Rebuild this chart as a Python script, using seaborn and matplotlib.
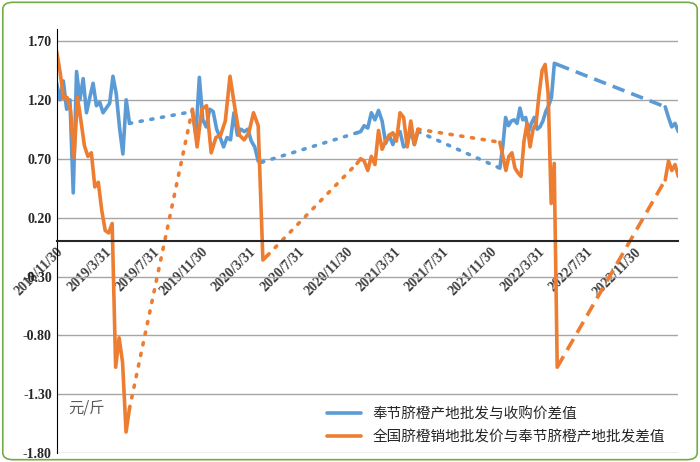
import pandas as pd
import numpy as np
import matplotlib.pyplot as plt
import seaborn as sns
from matplotlib.patches import FancyBboxPatch

# --- data: solid segments (start date, end date, values) ---
blue_segments = [
    ('2018-11-30', '2019-06-02', [1.34, 1.20, 1.36, 1.12, 1.20, 0.41, 1.44, 1.20, 1.38, 1.09, 1.22, 1.34,
                                  1.15, 1.18, 1.09, 1.13, 1.17, 1.40, 1.25, 0.96, 0.74, 1.20, 1.00]),
    ('2019-11-08', '2020-05-01', [1.10, 0.90, 1.39, 1.03, 0.97, 1.12, 1.10, 0.95, 0.88, 0.80, 0.88, 0.86,
                                  1.09, 0.90, 0.95, 0.93, 0.95, 0.85, 0.80, 0.68, 0.67]),
    ('2020-12-28', '2021-05-31', [0.92, 0.93, 0.98, 0.96, 1.09, 1.03, 1.11, 1.02, 0.83, 0.90, 0.82, 0.90,
                                  0.93, 0.80, 0.82, 0.95, 0.82, 0.93]),
    ('2021-12-24', '2022-05-18', [0.62, 0.80, 1.05, 0.98, 1.02, 1.03, 1.00, 1.13, 1.03, 1.05, 0.93, 1.00,
                                  1.05, 0.95, 0.97, 1.02, 1.10, 1.15, 1.22, 1.51, 1.50]),
    ('2023-02-15', '2023-03-20', [1.14, 1.05, 0.97, 1.00, 0.93]),
]
orange_segments = [
    ('2018-11-30', '2019-06-02', [1.61, 1.43, 1.21, 1.22, 1.11, 0.71, 1.22, 1.02, 0.81, 0.72, 0.75, 0.46,
                                  0.50, 0.26, 0.09, 0.07, 0.15, -1.07, -0.82, -1.03, -1.62, -1.42]),
    ('2019-11-08', '2020-05-16', [1.12, 0.80, 1.12, 1.15, 0.75, 0.88, 0.90, 1.02, 1.40, 1.14, 0.90, 0.86,
                                  0.92, 1.09, 0.98, -0.16, -0.12]),
    ('2020-12-28', '2021-05-31', [0.66, 0.70, 0.68, 0.60, 0.72, 0.65, 0.94, 0.78, 0.85, 0.90, 0.92, 0.85,
                                  1.09, 1.05, 0.80, 1.02, 0.82, 0.95]),
    ('2021-12-24', '2022-05-18', [0.84, 0.72, 0.60, 0.72, 0.75, 0.62, 0.58, 0.55, 0.85, 1.00, 0.80, 0.95,
                                  1.00, 1.25, 1.45, 1.50, 1.25, 0.32, 0.66, -1.07]),
    ('2023-02-15', '2023-03-20', [0.52, 0.68, 0.60, 0.65, 0.55]),
]
# gap connectors: (start, end, v0, v1, style)
blue_gaps = [('2019-06-02', '2019-11-08', 1.00, 1.10, ':'), ('2020-05-01', '2020-12-28', 0.67, 0.92, ':'),
             ('2021-05-31', '2021-12-24', 0.93, 0.62, ':'), ('2022-05-18', '2023-02-15', 1.50, 1.14, '--')]
orange_gaps = [('2019-06-02', '2019-11-08', -1.42, 1.12, ':'), ('2020-05-16', '2020-12-28', -0.12, 0.66, ':'),
               ('2021-05-31', '2021-12-24', 0.95, 0.84, ':'), ('2022-05-18', '2023-02-15', -1.07, 0.52, '--')]
tick_dates = ['2018/11/30', '2019/3/31', '2019/7/31', '2019/11/30', '2020/3/31', '2020/7/31', '2020/11/30',
              '2021/3/31', '2021/7/31', '2021/11/30', '2022/3/31', '2022/7/31', '2022/11/30']
labels = ['奉节脐橙产地批发与收购价差值', '全国脐橙销地批发价与奉节脐橙产地批发差值']
BLUE, ORANGE = '#5B9BD5', '#ED7D31'

sns.set_style('white')
plt.rcParams['font.family'] = ['Noto Sans CJK SC', 'DejaVu Sans']

fig = plt.figure(figsize=(7, 4.62), dpi=100)
ax = fig.add_axes([0.081, 0.019, 0.888, 0.918])

def draw(segs, gaps, color, label):
    for i, (s, e, vals) in enumerate(segs):
        d = pd.DataFrame({'date': pd.date_range(s, e, periods=len(vals)), 'v': vals})
        sns.lineplot(data=d, x='date', y='v', ax=ax, color=color, lw=2.6,
                     label=label if i == 0 else None)
    for s, e, v0, v1, ls in gaps:
        d = pd.DataFrame({'date': pd.to_datetime([s, e]), 'v': [v0, v1]})
        if ls == ':':
            sns.lineplot(data=d, x='date', y='v', ax=ax, color=color, lw=2.6, linestyle=(0, (0.6, 2.4)),
                         dash_capstyle='round')
        else:
            sns.lineplot(data=d, x='date', y='v', ax=ax, color=color, lw=2.6, linestyle=(0, (3.5, 2)))

draw(blue_segments, blue_gaps, BLUE, labels[0])
draw(orange_segments, orange_gaps, ORANGE, labels[1])

ax.set_xlim(pd.Timestamp('2018-11-30'), pd.Timestamp('2023-03-20'))
ax.set_ylim(-1.8, 1.8)
yt = np.arange(-1.8, 1.71, 0.5)
ax.set_yticks(yt)
ax.set_yticklabels([f'{v:.2f}' for v in yt])
ax.yaxis.grid(True, color='#a6a6a6', lw=1)
ax.set_axisbelow(True)
ax.set_xticks(pd.to_datetime(tick_dates, format='%Y/%m/%d'))
ax.set_xticklabels(tick_dates)
ax.spines['bottom'].set_position(('data', 0))
ax.spines['bottom'].set_linewidth(1.5)
ax.spines['left'].set_color('black')
ax.spines['right'].set_visible(False)
ax.spines['top'].set_visible(False)
ax.tick_params(axis='x', direction='in', length=5, pad=3, labelrotation=45)
ax.tick_params(axis='y', length=0)
for t in ax.get_xticklabels():
    t.set_ha('right')
    t.set_rotation_mode('anchor')
    t.set_family('Liberation Serif')
    t.set_weight('bold')
    t.set_fontsize(10)
    t.set_color('#404040')
for t in ax.get_yticklabels():
    t.set_family('Liberation Serif')
    t.set_weight('bold')
    t.set_fontsize(10)
ax.set_xlabel('')
ax.set_ylabel('')
ax.text(0.018, 0.095, '元/斤', transform=ax.transAxes, fontsize=11, color='#595959')
ax.legend(loc='lower right', frameon=False, fontsize=10.5, handlelength=2.3, labelspacing=0.6,
          bbox_to_anchor=(1.0, -0.01))

fig.patches.append(FancyBboxPatch((0.004, 0.005), 0.992, 0.99, boxstyle='round,pad=0,rounding_size=0.015',
                                  transform=fig.transFigure, fill=False, edgecolor='#70ad47', lw=1.2))
fig.savefig('out.png', dpi=100)
